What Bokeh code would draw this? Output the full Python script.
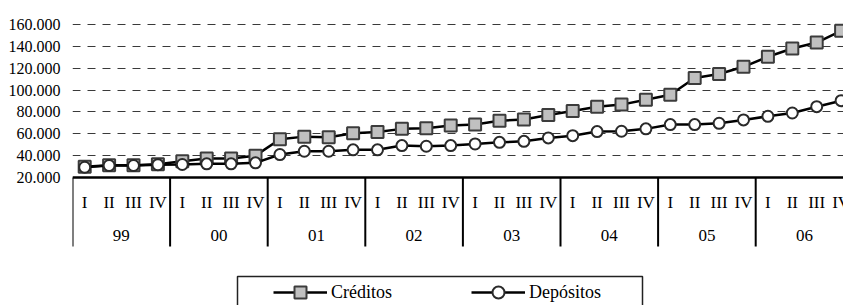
from bokeh.plotting import figure
from bokeh.models import FixedTicker, ColumnDataSource, Legend, LegendItem
from bokeh.embed import file_html
from bokeh.resources import INLINE
from bokeh.core.properties import value

# ---------------- data ----------------
years = ["99", "00", "01", "02", "03", "04", "05", "06"]
quarters = ["I", "II", "III", "IV"]
creditos = [29800, 31300, 31300, 32200, 34900, 37300, 37300, 40000,
            55000, 57400, 56800, 60500, 61700, 64500, 65000, 67500,
            68400, 72000, 73000, 77200, 80800, 84800, 86700, 91200,
            95800, 111000, 114700, 121300, 130500, 138000, 143500, 154200]
depositos = [29400, 31000, 31000, 31700, 31900, 32500, 32500, 33400,
             41000, 44000, 44000, 45300, 45300, 49200, 48600, 49200,
             50700, 52200, 53100, 56200, 58300, 62000, 62300, 64500,
             68400, 68400, 69600, 72700, 76000, 79000, 84800, 90300]
y_ticks = [20000, 40000, 60000, 80000, 100000, 120000, 140000, 160000]
y_tick_labels = ["20.000", "40.000", "60.000", "80.000", "100.000",
                 "120.000", "140.000", "160.000"]

# ---------------- layout (pixels) ----------------
W, H = 843, 305
FRAME_LEFT = 72
FRAME_TOP = 14
frame_w = W - FRAME_LEFT
frame_h = H - FRAME_TOP
top_px, base_px = 24, 177
upp = (y_ticks[-1] - y_ticks[0]) / (base_px - top_px)
y_end = y_ticks[-1] + (top_px - FRAME_TOP) * upp
y_start = y_ticks[0] - (H - base_px) * upp
n_q = len(creditos)
q_px = 24.4
x_end = frame_w / q_px
upx = 1.0 / q_px


def py(pix_y):
    return y_ticks[0] + (base_px - pix_y) * upp


def px(pix_x):
    return (pix_x - FRAME_LEFT) * upx


FONT = "'Liberation Serif'"

p = figure(width=W, height=H, output_backend="svg", toolbar_location=None,
           x_range=(0, x_end), y_range=(y_start, y_end),
           x_axis_location=None, min_border_left=FRAME_LEFT,
           min_border_top=FRAME_TOP, min_border_bottom=0, min_border_right=0,
           outline_line_color=None, background_fill_color="white",
           border_fill_color="white")

p.xgrid.visible = False
p.ygrid.ticker = FixedTicker(ticks=y_ticks[1:])
p.ygrid.grid_line_color = "#3a3a3a"
p.ygrid.grid_line_dash = "8 7"
p.ygrid.grid_line_width = 1

ax = p.yaxis[0]
ax.ticker = FixedTicker(ticks=y_ticks)
ax.major_label_overrides = {t: s for t, s in zip(y_ticks, y_tick_labels)}
ax.axis_line_color = None
ax.major_tick_line_color = None
ax.minor_tick_line_color = None
ax.major_tick_out = 0
ax.major_tick_in = 0
ax.major_label_standoff = 12
ax.major_label_text_font = FONT
ax.major_label_text_font_size = "16px"
ax.major_label_text_color = "black"

xs = [i + 0.5 for i in range(n_q)]
p.segment(x0=[0], x1=[n_q], y0=[y_ticks[0]], y1=[y_ticks[0]],
          line_color="black", line_width=2.5)
sep_x = [4 * i for i in range(len(years) + 1)]
p.segment(x0=sep_x, x1=sep_x, y0=[y_ticks[0]] * len(sep_x),
          y1=[py(246)] * len(sep_x), line_color="black", line_width=2)
q_src = ColumnDataSource(dict(x=xs, y=[py(202)] * n_q,
                              t=[quarters[i % 4] for i in range(n_q)]))
p.text(x="x", y="y", text="t", source=q_src, text_font=value(FONT),
       text_font_size=value("17px"), text_align="center",
       text_baseline="middle", text_color="black")
y_src = ColumnDataSource(dict(x=[4 * i + 2 for i in range(len(years))],
                              y=[py(235)] * len(years), t=years))
p.text(x="x", y="y", text="t", source=y_src, text_font=value(FONT),
       text_font_size=value("17px"), text_align="center",
       text_baseline="middle", text_color="black")

l1 = p.line(xs, creditos, line_color="black", line_width=2.5)
s1 = p.scatter(xs, creditos, marker="square", size=12,
               fill_color="#c0c0c0", line_color="#3c3c3c", line_width=2)
l2 = p.line(xs, depositos, line_color="black", line_width=2.5)
s2 = p.scatter(xs, depositos, marker="circle", size=11,
               fill_color="white", line_color="#2a2a2a", line_width=2)

p.quad(left=[px(237)], right=[px(642)], top=[py(276)], bottom=[py(330)],
       fill_alpha=0, line_color="#222222", line_width=1.5)

legend = Legend(items=[LegendItem(label="Créditos", renderers=[l1, s1]),
                       LegendItem(label="Depósitos", renderers=[l2, s2])],
                orientation="horizontal",
                location=(273 - FRAME_LEFT, -2),
                padding=0, margin=0, spacing=0,
                glyph_width=54, glyph_height=30, label_standoff=4,
                label_width=140, label_text_font=FONT,
                label_text_font_size="18px", label_text_color="black",
                border_line_color=None, background_fill_alpha=0)
p.add_layout(legend)

open("out.html", "w").write(file_html(p, INLINE))
